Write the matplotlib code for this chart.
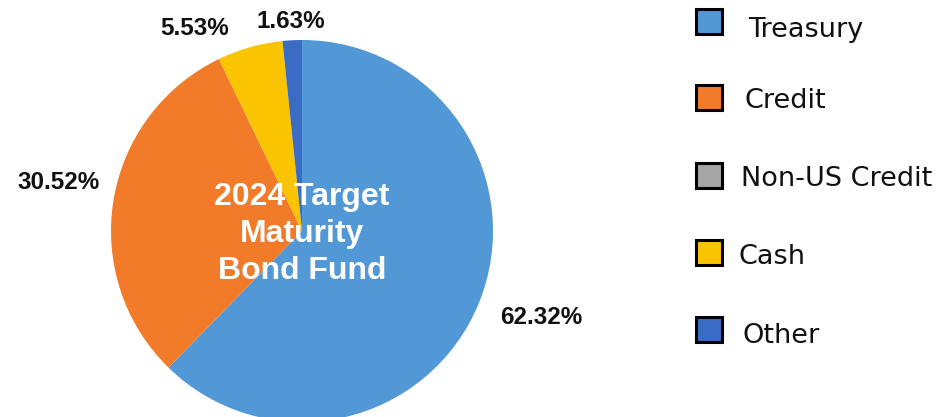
import matplotlib.pyplot as plt
import numpy as np
from matplotlib.patches import Rectangle

# fund allocation, clockwise from 12 o'clock
labels = ["Treasury", "Credit", "Non-US Credit", "Cash", "Other"]
values = [62.32, 30.52, 0.0, 5.53, 1.63]
colors = ["#5297d6", "#f27b29", "#a5a5a5", "#fac400", "#3a6cc4"]
title = "2024 Target\nMaturity\nBond Fund"

W, H = 953, 417
fig = plt.figure(figsize=(W / 100, H / 100), dpi=100)

# pie centre (302, 231) px, radius 191 px
cx, cy, r = 302, 231, 191
ax = fig.add_axes([(cx - r) / W, (H - cy - r) / H, 2 * r / W, 2 * r / H])
wedges, _ = ax.pie(values, colors=colors, startangle=90, counterclock=False,
                   radius=1, wedgeprops=dict(linewidth=0))
ax.set_xlim(-1, 1)
ax.set_ylim(-1, 1)
ax.set_aspect("equal")
ax.axis("off")

# percentage labels placed outside (distance, angle nudge) like the original
label_dist = [1.33, 1.30, 1.2, 1.2, 1.1]
label_turn = [2.3, -2.0, 0, 12.0, 0]
for w, v, d, t in zip(wedges, values, label_dist, label_turn):
    if v <= 0:
        continue
    ang = np.deg2rad((w.theta1 + w.theta2) / 2 + t)
    ax.text(d * np.cos(ang), d * np.sin(ang), f"{v:.2f}%",
            ha="center", va="center", fontsize=17.5, fontweight="bold",
            family="Liberation Sans", color="#111111")

ax.text(0.0, -0.016, title, ha="center", va="center", color="white",
        fontsize=23, fontweight="bold", family="Liberation Sans",
        linespacing=1.3)

# legend drawn by hand: squares + text
box_y = [21, 97.5, 175, 252, 329]
base_y = [37, 108, 186, 264, 343]
text_x = [748, 745, 741, 739, 743]
for lab, col, by, ty, tx in zip(labels, colors, box_y, base_y, text_x):
    fig.patches.append(Rectangle((696 / W, (H - by - 12.5) / H), 26 / W, 25 / H,
                                 transform=fig.transFigure, facecolor=col,
                                 edgecolor="black", linewidth=2.2))
    fig.text(tx / W, (H - ty) / H, lab, ha="left", va="baseline",
             fontsize=19.5, family="DejaVu Sans", color="#111111")

fig.savefig("out.png", dpi=100)
